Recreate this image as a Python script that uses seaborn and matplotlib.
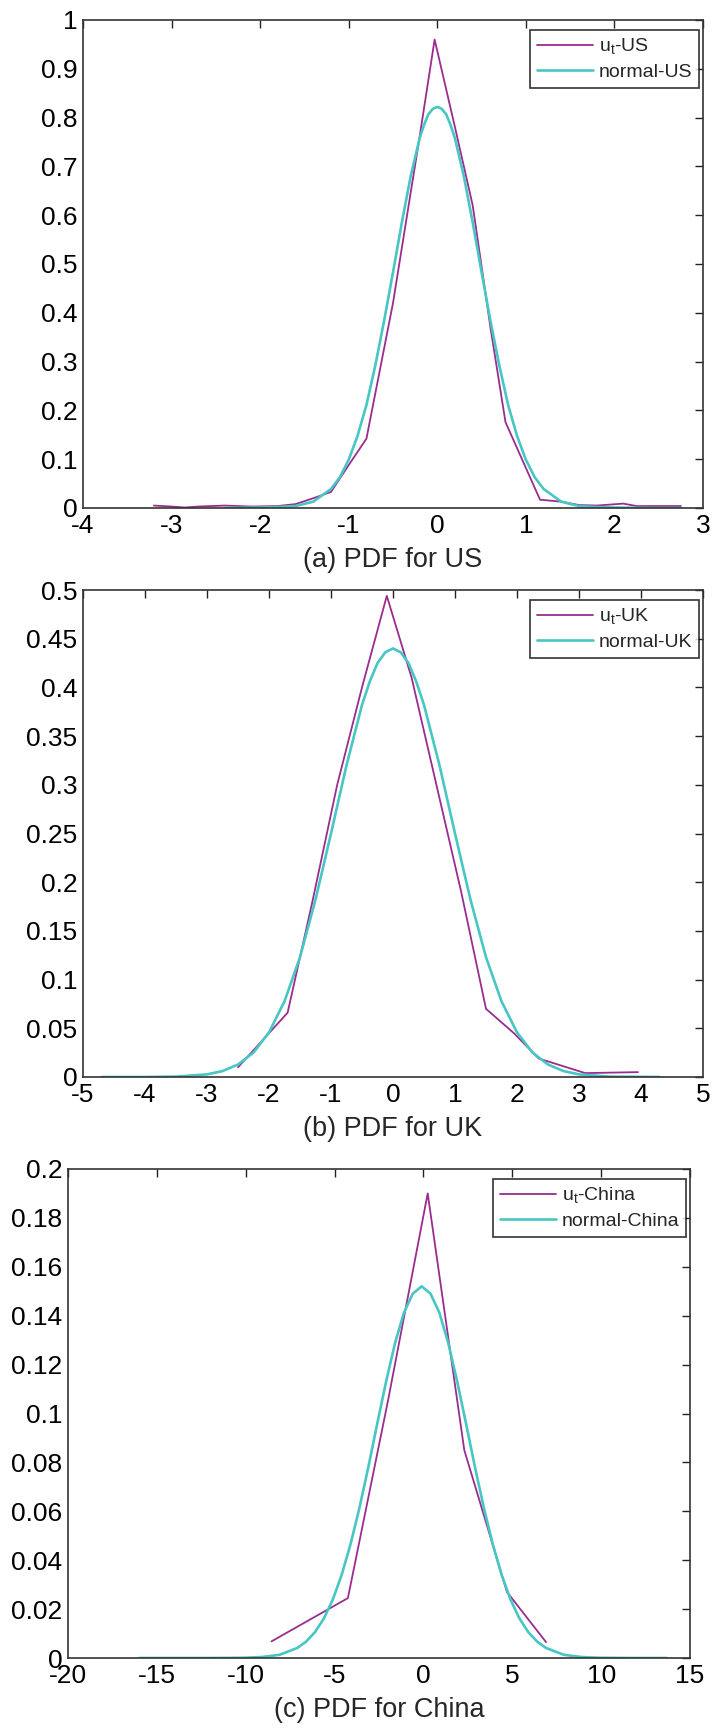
import numpy as np
import pandas as pd
import matplotlib
matplotlib.use("Agg")
import matplotlib.pyplot as plt
from matplotlib.ticker import FuncFormatter
import seaborn as sns

# ---------------- data ----------------
# Panel (a) US
us_ut_x = [-3.2, -3.0, -2.85, -2.7, -2.4, -2.1, -1.8, -1.6, -1.4, -1.2, -1.0, -0.8,
           -0.5, -0.2, -0.03, 0.2, 0.4, 0.6, 0.77, 1.16, 1.4, 1.6, 1.8, 2.1, 2.25, 2.75]
us_ut_y = [0.005, 0.003, 0.001, 0.003, 0.005, 0.003, 0.004, 0.008, 0.020, 0.033, 0.088, 0.142,
           0.420, 0.760, 0.960, 0.780, 0.620, 0.370, 0.176, 0.017, 0.013, 0.006, 0.005, 0.009, 0.004, 0.004]
us_norm_x = [-2.4, -2.0, -1.8, -1.6, -1.4, -1.2, -1.1, -1.0, -0.9, -0.8, -0.7, -0.6, -0.5, -0.4,
             -0.3, -0.2, -0.15, -0.1, -0.05, 0.0, 0.05, 0.1, 0.15, 0.2, 0.3, 0.4, 0.5, 0.6, 0.7,
             0.8, 0.9, 1.0, 1.1, 1.2, 1.4, 1.6, 1.8, 2.0, 2.4, 2.75]
us_norm_y = [0.000, 0.001, 0.002, 0.004, 0.013, 0.039, 0.063, 0.099, 0.148, 0.211, 0.292, 0.384,
             0.483, 0.585, 0.680, 0.757, 0.785, 0.807, 0.818, 0.822, 0.818, 0.807, 0.785, 0.757,
             0.680, 0.585, 0.483, 0.384, 0.292, 0.211, 0.148, 0.099, 0.063, 0.039, 0.013, 0.004,
             0.002, 0.001, 0.000, 0.000]

# Panel (b) UK
uk_ut_x = [-2.5, -1.7, -1.3, -0.9, -0.5, -0.1, 0.3, 0.7, 1.1, 1.5, 1.95, 2.35, 3.1, 3.95]
uk_ut_y = [0.010, 0.066, 0.180, 0.300, 0.400, 0.494, 0.410, 0.300, 0.190, 0.070, 0.045, 0.019, 0.004, 0.005]
uk_norm_x = [-4.7, -4.0, -3.5, -3.0, -2.75, -2.5, -2.25, -2.0, -1.75, -1.5, -1.25, -1.0, -0.75,
             -0.5, -0.375, -0.25, -0.125, 0.0, 0.125, 0.25, 0.375, 0.5, 0.75, 1.0, 1.25, 1.5,
             1.75, 2.0, 2.25, 2.5, 2.75, 3.0, 3.5, 4.3]
uk_norm_y = [0.000, 0.000, 0.0004, 0.0027, 0.0061, 0.0128, 0.0251, 0.0458, 0.0777, 0.123, 0.182,
             0.250, 0.320, 0.382, 0.406, 0.425, 0.436, 0.440, 0.436, 0.425, 0.406, 0.382, 0.320,
             0.250, 0.182, 0.123, 0.0777, 0.0458, 0.0251, 0.0128, 0.0061, 0.0027, 0.0004, 0.000]

# Panel (c) China
cn_ut_x = [-8.55, -4.25, -2.0, 0.24, 2.3, 4.7, 6.9]
cn_ut_y = [0.0068, 0.0245, 0.105, 0.190, 0.085, 0.027, 0.0065]
cn_norm_x = [-16.0, -12.1, -10.1, -9.1, -8.1, -7.1, -6.6, -6.1, -5.6, -5.1, -4.6, -4.1, -3.6,
             -3.1, -2.6, -2.1, -1.6, -1.1, -0.6, -0.1, 0.4, 0.9, 1.4, 1.9, 2.4, 2.9, 3.4, 3.9,
             4.4, 4.9, 5.4, 5.9, 6.4, 6.9, 7.9, 8.9, 9.9, 11.9, 13.7]
cn_norm_y = [0.000, 0.000, 0.0001, 0.0004, 0.0013, 0.0041, 0.0067, 0.0106, 0.0162, 0.0239,
             0.0340, 0.0466, 0.0614, 0.0781, 0.0958, 0.1131, 0.1287, 0.1412, 0.1490, 0.1520,
             0.1490, 0.1412, 0.1287, 0.1131, 0.0958, 0.0781, 0.0614, 0.0466, 0.0340, 0.0239,
             0.0162, 0.0106, 0.0067, 0.0041, 0.0013, 0.0004, 0.0001, 0.000, 0.000]

panels = [
    dict(ut=(us_ut_x, us_ut_y), nm=(us_norm_x, us_norm_y), name="US",
         xlim=(-4, 3), xticks=list(range(-4, 4)), ylim=(0, 1),
         yticks=[round(0.1 * i, 2) for i in range(11)], title="(a) PDF for US"),
    dict(ut=(uk_ut_x, uk_ut_y), nm=(uk_norm_x, uk_norm_y), name="UK",
         xlim=(-5, 5), xticks=list(range(-5, 6)), ylim=(0, 0.5),
         yticks=[round(0.05 * i, 2) for i in range(11)], title="(b) PDF for UK"),
    dict(ut=(cn_ut_x, cn_ut_y), nm=(cn_norm_x, cn_norm_y), name="China",
         xlim=(-20, 15), xticks=list(range(-20, 16, 5)), ylim=(0, 0.2),
         yticks=[round(0.02 * i, 2) for i in range(11)], title="(c) PDF for China"),
]

# ---------------- style ----------------
sns.set_style("white")
plt.rcParams["font.family"] = ["Liberation Sans", "DejaVu Sans"]
plt.rcParams["mathtext.fontset"] = "custom"
plt.rcParams["mathtext.rm"] = "Liberation Sans"
plt.rcParams["axes.unicode_minus"] = False

PURPLE = "#9b2c8f"
CYAN = "#48c6c4"

W, H = 721, 1728
fig = plt.figure(figsize=(W / 100, H / 100), dpi=100)
# axes boxes in pixels: (left, top, right, bottom)
boxes = [(83, 20, 703, 508), (83, 590, 703, 1077), (68, 1169, 690, 1658)]

for p, (l, t, r, b) in zip(panels, boxes):
    ax = fig.add_axes([l / W, 1 - b / H, (r - l) / W, (b - t) / H])
    df_ut = pd.DataFrame({"x": p["ut"][0], "y": p["ut"][1]})
    df_nm = pd.DataFrame({"x": p["nm"][0], "y": p["nm"][1]})
    sns.lineplot(data=df_ut, x="x", y="y", ax=ax, color=PURPLE, lw=1.3,
                 sort=False, estimator=None, label=r"u$_\mathregular{t}$-" + p["name"])
    sns.lineplot(data=df_nm, x="x", y="y", ax=ax, color=CYAN, lw=1.9,
                 sort=False, estimator=None, label="normal-" + p["name"])
    ax.set_xlim(*p["xlim"])
    ax.set_ylim(*p["ylim"])
    ax.set_xticks(p["xticks"])
    ax.set_yticks(p["yticks"])
    fmt = FuncFormatter(lambda v, _: f"{v:g}")
    ax.xaxis.set_major_formatter(fmt)
    ax.yaxis.set_major_formatter(fmt)
    ax.tick_params(direction="in", length=6, width=1, top=True, right=True,
                   labelsize=19, colors="#222222", labelcolor="black")
    ax.tick_params(axis="x", pad=4)
    ax.tick_params(axis="y", pad=4)
    for s in ax.spines.values():
        s.set_visible(True)
        s.set_color("#333333")
        s.set_linewidth(1.2)
    ax.set_ylabel("")
    ax.set_xlabel(p["title"], fontsize=19.5, labelpad=7)
    ax.grid(False)
    leg = ax.legend(loc="upper right", bbox_to_anchor=(0.994, 0.98), borderaxespad=0,
                    fontsize=14, handlelength=2.9, handletextpad=0.3, labelspacing=0.35,
                    borderpad=0.35, frameon=True, fancybox=False)
    leg.get_frame().set_edgecolor("black")
    leg.get_frame().set_linewidth(1.2)

fig.savefig("out.png", dpi=100, facecolor="white")
